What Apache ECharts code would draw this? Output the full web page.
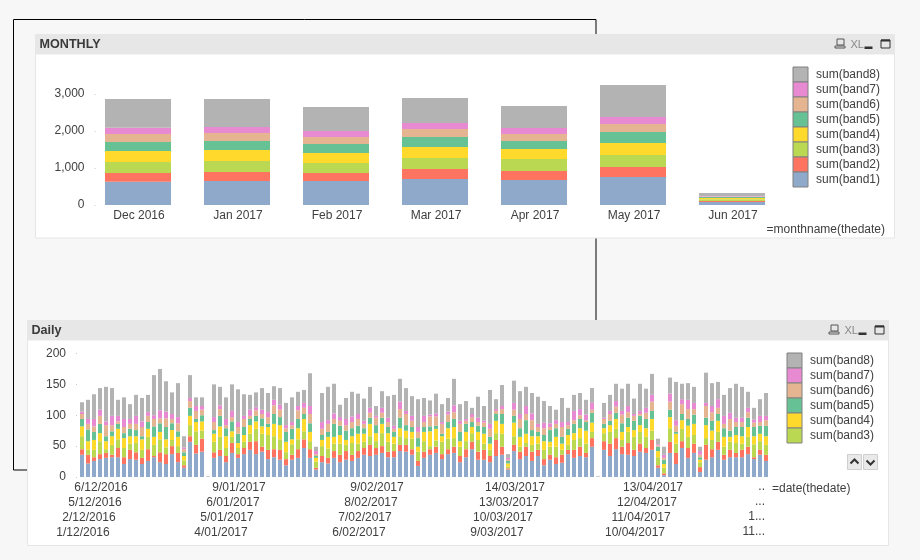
<!DOCTYPE html>
<html><head><meta charset="utf-8">
<style>html,body{margin:0;padding:0;background:#f7f7f7}#c{width:920px;height:560px}</style>
<script src="https://cdn.jsdelivr.net/npm/echarts@6/dist/echarts.min.js"></script>
</head><body><div id="c"></div>
<script>
const seriesNames=['sum(band1)','sum(band2)','sum(band3)','sum(band4)','sum(band5)','sum(band6)','sum(band7)','sum(band8)'];
const colors=['#8ea9c9','#ff7361','#bbd852','#ffd92c','#66c295','#e5b592','#e78ad1','#b3b3b3'];
const months=['Dec 2016','Jan 2017','Feb 2017','Mar 2017','Apr 2017','May 2017','Jun 2017'];
const m1=[630,650,650,703,676,757,81];
const m2=[235,243,215,270,243,270,30];
const m3=[297,297,270,297,324,324,45];
const m4=[297,297,270,298,271,325,30];
const m5=[244,244,244,270,216,297,27];
const m6=[216,216,189,216,189,216,15];
const m7=[171,162,162,162,162,189,15];
const m8=[775,757,649,676,595,865,81];
const dayLabels=['1/12/2016','2/12/2016','5/12/2016','6/12/2016','7/12/2016','8/12/2016','9/12/2016','12/12/2016','13/12/2016','14/12/2016','15/12/2016','16/12/2016','19/12/2016','20/12/2016','21/12/2016','22/12/2016','23/12/2016','27/12/2016','28/12/2016','29/12/2016','30/12/2016','2/01/2017','3/01/2017','4/01/2017','5/01/2017','6/01/2017','9/01/2017','10/01/2017','11/01/2017','12/01/2017','13/01/2017','16/01/2017','17/01/2017','18/01/2017','19/01/2017','20/01/2017','23/01/2017','24/01/2017','25/01/2017','26/01/2017','27/01/2017','30/01/2017','31/01/2017','1/02/2017','2/02/2017','3/02/2017','6/02/2017','7/02/2017','8/02/2017','9/02/2017','10/02/2017','13/02/2017','14/02/2017','15/02/2017','16/02/2017','17/02/2017','20/02/2017','21/02/2017','22/02/2017','23/02/2017','24/02/2017','27/02/2017','28/02/2017','1/03/2017','2/03/2017','3/03/2017','6/03/2017','7/03/2017','8/03/2017','9/03/2017','10/03/2017','13/03/2017','14/03/2017','15/03/2017','16/03/2017','17/03/2017','20/03/2017','21/03/2017','22/03/2017','23/03/2017','24/03/2017','27/03/2017','28/03/2017','29/03/2017','30/03/2017','31/03/2017','1/04/2017','3/04/2017','4/04/2017','5/04/2017','6/04/2017','7/04/2017','10/04/2017','11/04/2017','12/04/2017','13/04/2017','14/04/2017','17/04/2017','18/04/2017','19/04/2017','20/04/2017','21/04/2017','24/04/2017','25/04/2017','26/04/2017','27/04/2017','28/04/2017','1/05/2017','2/05/2017','3/05/2017','4/05/2017','5/05/2017','8/05/2017','9/05/2017','10/05/2017'];
const truncatedLabels=['..','...','1...','11...'];
const d1=[36,22,26,29,31,32,32,21,29,28,21,26,32,24,21,37,24,15,57,38,41,0,31,34,24,39,31,37,44,37,41,29,32,28,19,28,31,47,31,12,24,22,31,24,28,26,31,36,34,36,39,32,32,42,41,36,18,31,36,39,29,37,39,24,32,45,28,28,24,34,36,12,42,29,34,26,34,19,28,21,23,37,31,34,32,49,0,44,34,45,37,36,34,41,39,44,15,3,39,21,47,31,39,8,28,32,44,28,32,32,32,37,29,36,26];
const d2=[9,14,6,8,8,4,15,11,15,12,10,19,2,16,16,13,15,4,9,14,21,0,9,10,10,16,6,10,13,21,8,15,13,16,10,8,14,14,14,3,10,9,11,12,14,10,11,11,18,11,11,9,10,10,11,9,8,10,9,10,8,8,10,10,13,12,13,16,10,26,13,2,10,12,15,15,10,10,8,11,13,7,13,15,7,14,0,14,20,18,12,19,10,13,8,16,4,3,18,18,11,16,15,8,24,13,13,8,12,7,12,12,3,8,10];
const d3=[21,8,12,21,6,16,14,15,10,15,13,20,18,21,11,10,11,8,18,22,13,0,17,21,13,10,10,10,13,20,21,24,21,17,11,17,16,13,13,10,16,15,12,18,10,19,12,10,14,11,21,16,12,14,11,17,15,17,5,10,20,17,14,15,13,14,19,10,10,11,21,3,14,8,6,11,10,15,13,17,8,8,16,14,15,10,0,13,19,15,11,18,21,19,18,15,13,9,22,15,20,18,14,8,11,15,16,13,13,16,10,16,21,14,16];
const d4=[16,14,16,13,13,14,17,16,12,11,17,13,13,12,13,16,15,7,15,15,15,0,13,17,19,9,8,11,14,12,12,13,20,23,17,8,18,20,15,6,10,19,11,14,8,11,16,13,20,13,15,14,11,13,12,11,8,15,24,19,9,17,18,9,15,10,13,16,10,20,16,5,22,16,15,14,12,14,8,16,10,16,11,16,21,15,0,8,11,16,13,8,11,11,14,19,10,6,18,16,14,18,18,4,21,15,18,16,8,13,12,16,13,12,14];
const d5=[12,19,13,15,8,8,8,8,12,10,5,11,17,14,20,11,9,6,13,5,10,0,6,17,13,16,15,13,10,9,13,5,16,13,16,17,15,8,14,3,8,8,21,15,15,13,13,9,10,13,10,10,8,17,9,8,14,8,8,5,4,10,13,15,13,8,10,11,11,11,16,4,11,14,22,10,7,10,19,14,11,10,15,15,14,16,0,7,7,10,14,15,15,15,15,13,7,7,12,3,10,11,15,4,12,16,11,14,10,13,15,15,15,13,17];
const d6=[8,9,9,13,18,10,4,10,8,10,15,10,12,8,14,7,13,5,11,13,9,0,13,11,5,7,11,13,5,9,7,11,14,12,6,6,14,10,15,3,10,13,8,8,9,10,11,7,8,12,8,8,5,14,18,10,10,8,16,15,16,12,11,13,5,8,6,7,13,5,8,2,10,15,10,16,8,11,5,7,16,6,6,6,3,5,0,8,11,10,14,9,8,3,10,15,2,3,13,10,16,16,9,4,19,14,10,7,19,8,8,9,7,6,9];
const d7=[4,8,12,10,6,15,9,13,8,13,9,6,6,13,11,8,10,3,5,8,6,0,8,6,10,10,8,5,10,5,7,8,9,8,5,5,7,8,13,5,11,6,9,6,10,9,8,5,8,3,8,7,5,12,5,8,8,10,3,5,3,5,11,5,3,5,7,3,8,3,5,3,11,8,13,11,5,9,6,6,8,5,15,10,9,11,0,2,5,9,6,10,3,5,8,11,2,5,13,9,8,15,10,6,5,10,14,13,10,7,7,7,5,10,7];
const d8=[15,31,40,35,56,45,26,35,24,34,38,28,65,67,49,35,55,18,37,14,14,1,53,30,35,43,53,35,24,24,35,31,22,27,36,40,23,21,53,7,47,54,48,20,34,40,33,36,34,16,27,35,50,37,37,32,45,29,23,32,29,22,43,27,29,10,34,24,55,16,34,6,36,37,31,33,44,35,28,17,39,23,26,26,24,24,1,24,26,28,36,36,25,44,31,34,9,13,26,62,25,27,26,7,49,37,28,34,40,55,50,26,19,27,37];
const monthlyBands=[m1,m2,m3,m4,m5,m6,m7,m8];
const dailyBands=[d1,d2,d3,d4,d5,d6,d7,d8];

const FONT='"Liberation Sans",Arial,sans-serif';
const TXT='#404040';
const rowH=15;

function panel(x,y,w,h,title){
  const zb=-20;
  return [
    {type:'rect',z:zb,shape:{x:x,y:y,width:w,height:h},style:{fill:'#ffffff',stroke:'#e6e6e6',lineWidth:1}},
    {type:'rect',z:zb+1,shape:{x:x,y:y,width:w,height:20},style:{fill:'#e7e7e7'}},
    {type:'text',z:zb+2,x:x+4,y:y+10,style:{text:title,font:'bold 12.6px '+FONT,fill:'#3a3a3a',verticalAlign:'middle',textAlign:'left'}},
    // header icons: print, XL, minimise, maximise
    {type:'rect',z:zb+2,shape:{x:x+w-57.5,y:y+4.5,width:7,height:6},style:{fill:'none',stroke:'#555',lineWidth:1}},
    {type:'rect',z:zb+2,shape:{x:x+w-59.5,y:y+11.5,width:10,height:2},style:{fill:'none',stroke:'#555',lineWidth:1}},
    {type:'text',z:zb+2,x:x+w-44,y:y+10,style:{text:'XL',font:'11px '+FONT,fill:'#888',verticalAlign:'middle',textAlign:'left'}},
    {type:'rect',z:zb+2,shape:{x:x+w-30,y:y+12,width:8,height:2.5},style:{fill:'#333'}},
    {type:'rect',z:zb+2,shape:{x:x+w-13.5,y:y+5.5,width:9,height:8},style:{fill:'none',stroke:'#333',lineWidth:1}},
    {type:'rect',z:zb+3,shape:{x:x+w-13.5,y:y+5,width:9,height:2},style:{fill:'#333'}}
  ];
}
const arrowBtn=(x,y,pts)=>[
  {type:'rect',z:-15,shape:{x:x,y:y,width:14,height:15},style:{fill:'#e9e9e9',stroke:'#cfcfcf',lineWidth:1}},
  {type:'polyline',z:-14,shape:{points:pts.map(p=>[x+p[0],y+p[1]])},style:{fill:'none',stroke:'#333',lineWidth:2}}
];

const graphicEls=[
  {type:'rect',z:-30,shape:{x:13.5,y:19.5,width:582.5,height:450.5},style:{fill:'none',stroke:'#000',lineWidth:1}},
  ...panel(35.5,34.5,859,203.5,'MONTHLY'),
  ...panel(27.5,320.5,861,225,'Daily'),
  {type:'text',x:885,y:230,style:{text:'=monthname(thedate)',font:'12px '+FONT,fill:TXT,textAlign:'right',verticalAlign:'middle'}},
  {type:'text',x:772,y:489,style:{text:'=date(thedate)',font:'12px '+FONT,fill:TXT,textAlign:'left',verticalAlign:'middle'}},
  ...truncatedLabels.map((t,i)=>({type:'text',x:765,y:487+i*rowH,style:{text:t,font:'12px '+FONT,fill:TXT,textAlign:'right',verticalAlign:'middle'}})),
  ...arrowBtn(847.5,454.5,[[3,9],[7,5],[11,9]]),
  ...arrowBtn(863.5,454.5,[[3,6],[7,10],[11,6]])
];

const axisTxt={color:TXT,fontSize:12,fontFamily:FONT};
const legendBase={orient:'vertical',itemWidth:15,itemHeight:15,itemGap:-1,icon:'rect',selectedMode:false,
  textStyle:{color:TXT,fontSize:12,fontFamily:FONT,lineHeight:15,padding:[0,0,0,3]},
  itemStyle:{borderColor:'#808080',borderWidth:1,borderJoin:'miter'},padding:0};

const option={
  animation:false,
  backgroundColor:'transparent',
  graphic:{elements:graphicEls},
  legend:[
    {...legendBase,left:792.5,top:66.5,data:seriesNames.slice().reverse()},
    {...legendBase,left:786.5,top:352.5,data:seriesNames.slice(2).reverse()}
  ],
  grid:[
    {left:88.5,width:693,top:75.5,height:129.5},
    {left:79,width:690,top:353.5,height:123.5}
  ],
  xAxis:[
    {type:'category',gridIndex:0,data:months,axisLine:{show:false},axisTick:{show:false},
      axisLabel:{...axisTxt,margin:5,interval:0,padding:[0,0,0,2]}},
    {type:'category',gridIndex:1,data:dayLabels,axisLine:{show:false},axisTick:{show:false},
      axisLabel:{...axisTxt,margin:3,lineHeight:rowH,interval:0,hideOverlap:false,padding:[0,0,0,2],
        formatter:(v,i)=>i%23<4?'\n'.repeat(3-(i%23))+v:''}}
  ],
  yAxis:[
    {type:'value',gridIndex:0,min:0,max:3500,offset:-7,splitLine:{show:false},axisLine:{show:false},
      axisTick:{show:true,length:1,lineStyle:{color:'#c8c8c8'},customValues:[0,1000,2000,3000]},
      axisLabel:{...axisTxt,margin:11,padding:[2,0,0,0],customValues:[0,1000,2000,3000],formatter:v=>v.toLocaleString('en-US')}},
    {type:'value',gridIndex:1,min:0,max:200,interval:50,offset:2,splitLine:{show:false},axisLine:{show:false},
      axisTick:{show:true,length:1,lineStyle:{color:'#c8c8c8'}},
      axisLabel:{...axisTxt,margin:11,padding:[2,0,0,0]}}
  ],
  series:[
    ...monthlyBands.map((d,i)=>({name:seriesNames[i],type:'bar',stack:'m',xAxisIndex:0,yAxisIndex:0,data:d,barWidth:66,itemStyle:{color:colors[i]},silent:true})),
    ...dailyBands.map((d,i)=>({name:seriesNames[i],type:'bar',stack:'d',xAxisIndex:1,yAxisIndex:1,data:d,barWidth:4,itemStyle:{color:colors[i]},silent:true}))
  ]
};
const chart=echarts.init(document.getElementById('c'),null,{renderer:'canvas',width:920,height:560});
chart.setOption(option);
</script></body></html>
